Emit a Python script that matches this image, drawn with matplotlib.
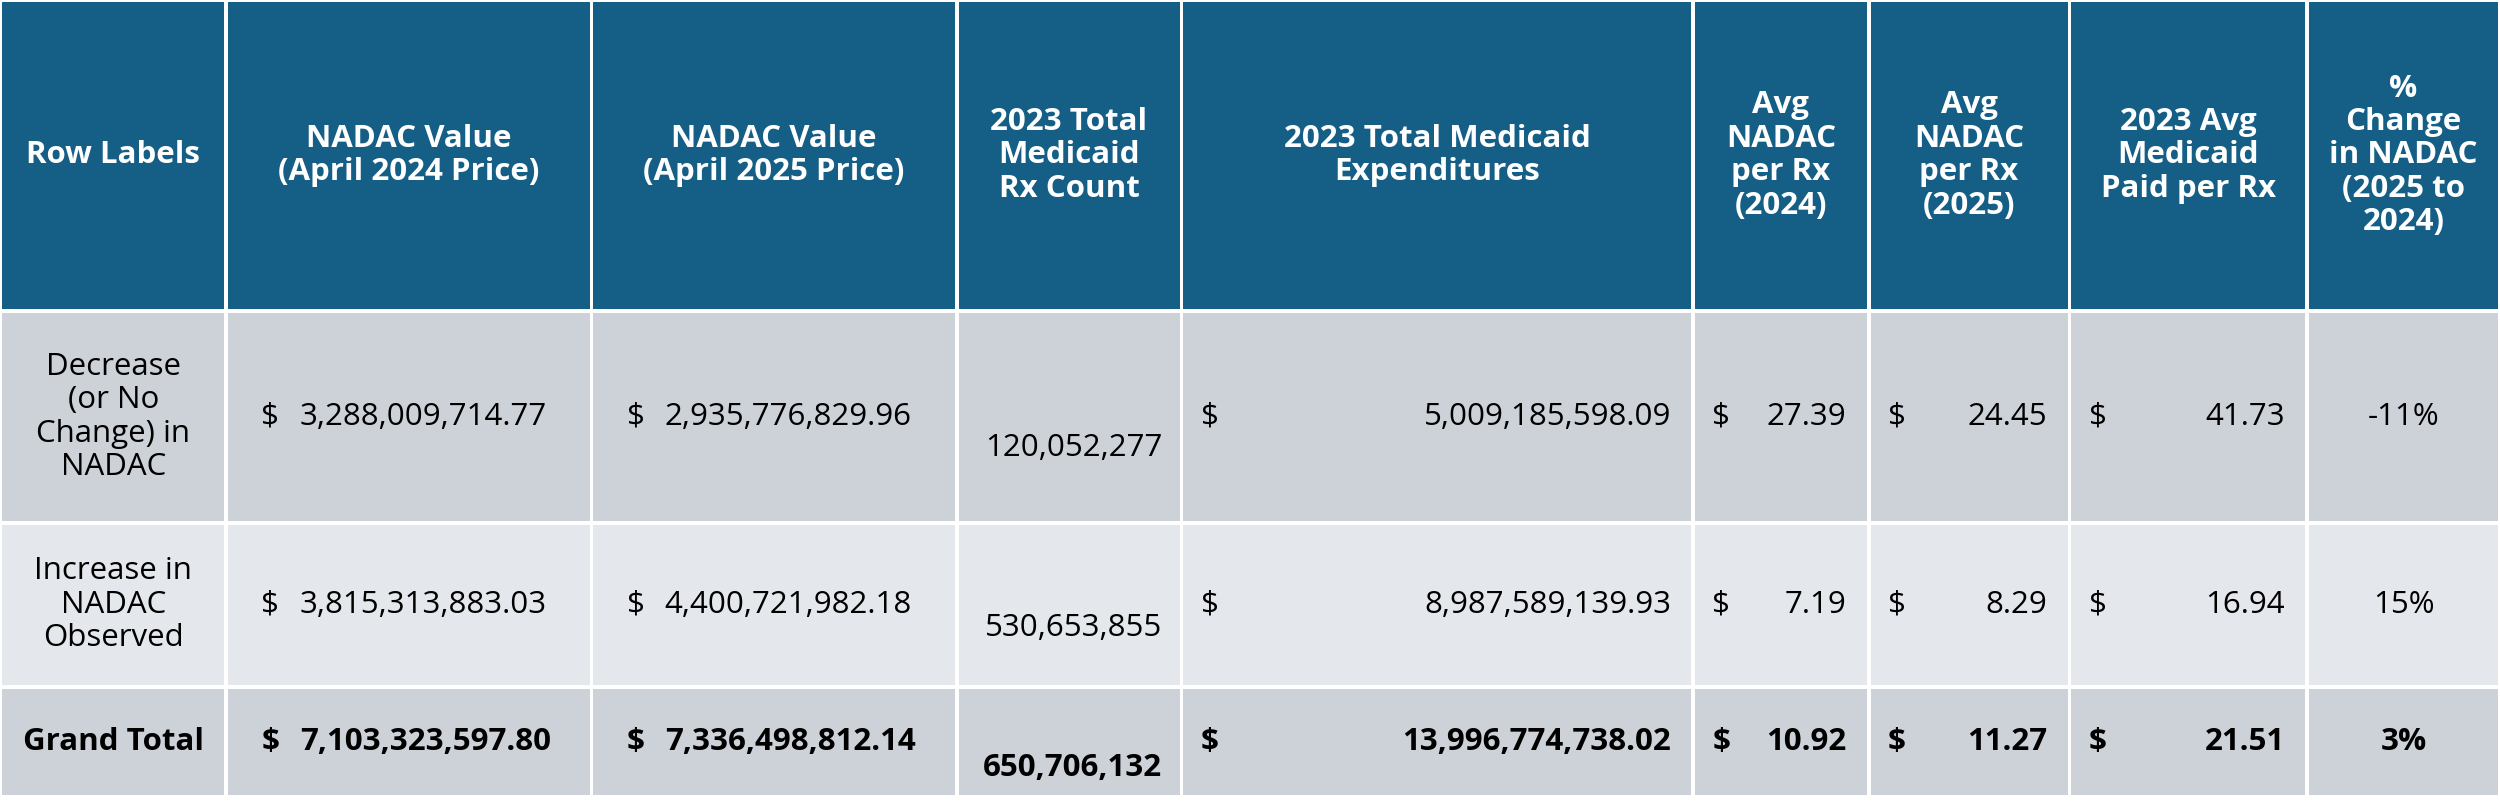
import matplotlib
matplotlib.use("Agg")
import matplotlib.pyplot as plt
from matplotlib.patches import Rectangle

headers = ["Row Labels", "NADAC Value\n(April 2024 Price)", "NADAC Value\n(April 2025 Price)",
           "2023 Total\nMedicaid\nRx Count", "2023 Total Medicaid\nExpenditures",
           "Avg\nNADAC\nper Rx\n(2024)", "Avg\nNADAC\nper Rx\n(2025)",
           "2023 Avg\nMedicaid\nPaid per Rx", "%\nChange\nin NADAC\n(2025 to\n2024)"]
row_labels = ["Decrease\n(or No\nChange) in\nNADAC", "Increase in\nNADAC\nObserved", "Grand Total"]
nadac_2024 = ["3,288,009,714.77", "3,815,313,883.03", "7,103,323,597.80"]
nadac_2025 = ["2,935,776,829.96", "4,400,721,982.18", "7,336,498,812.14"]
rx_count = ["120,052,277", "530,653,855", "650,706,132"]
expenditures = ["5,009,185,598.09", "8,987,589,139.93", "13,996,774,738.02"]
avg_2024 = ["27.39", "7.19", "10.92"]
avg_2025 = ["24.45", "8.29", "11.27"]
avg_paid = ["41.73", "16.94", "21.51"]
pct_change = ["-11%", "15%", "3%"]

xb = [0, 142, 371, 600, 741, 1062, 1172, 1298, 1447, 1568]
yb = [0, 195, 328, 431, 500]
W, H = 1568, 505

fig = plt.figure(figsize=(25, 8.05), dpi=100)
ax = fig.add_axes([0, 0, 1, 1])
ax.set_xlim(0, W); ax.set_ylim(H, 0); ax.axis("off")
ax.add_patch(Rectangle((0, 0), W, H, color="white"))
fam = ["Open Sans", "DejaVu Sans"]
fs = 22.5
bgs = ["#155E85", "#CDD1D8", "#E4E7EB", "#CDD1D8"]
for r in range(4):
    for c in range(9):
        ax.add_patch(Rectangle((xb[c] + 1.2, yb[r] + 1.2), xb[c+1] - xb[c] - 2.4,
                               yb[r+1] - yb[r] - 2.4, color=bgs[r], lw=0))
for c, h in enumerate(headers):
    xc = (xb[c] + xb[c+1]) / 2
    ax.text(xc, yb[1] / 2, h, ha="center", va="center", color="white",
            fontweight="bold", fontsize=fs, family=fam, linespacing=1.15)
dollar_cols = {1: nadac_2024, 2: nadac_2025, 4: expenditures, 5: avg_2024, 6: avg_2025, 7: avg_paid}
rx_off = [47, 37, 18]
for r in range(3):
    y0, y1 = yb[r+1], yb[r+2]
    ym = (y0 + y1) / 2
    wt = "bold" if r == 2 else "normal"
    ax.text((xb[0] + xb[1]) / 2, ym, row_labels[r], ha="center", va="center", fontsize=fs,
            family=fam, fontweight=wt, linespacing=1.15)
    for c, vals in dollar_cols.items():
        if c in (1, 2):
            ax.text(xb[c] + 22, ym, "$", ha="left", va="center", fontsize=fs, family=fam, fontweight=wt)
            ax.text(xb[c] + 46, ym, vals[r], ha="left", va="center", fontsize=fs, family=fam, fontweight=wt)
        else:
            ax.text(xb[c] + 12, ym, "$", ha="left", va="center", fontsize=fs, family=fam, fontweight=wt)
            ax.text(xb[c+1] - 14, ym, vals[r], ha="right", va="center", fontsize=fs, family=fam, fontweight=wt)
    ax.text(xb[4] - 12, y1 - rx_off[r], rx_count[r], ha="right", va="center", fontsize=fs, family=fam, fontweight=wt)
    ax.text((xb[8] + xb[9]) / 2, ym, pct_change[r], ha="center", va="center", fontsize=fs, family=fam, fontweight=wt)
fig.savefig("out.png", dpi=100)
